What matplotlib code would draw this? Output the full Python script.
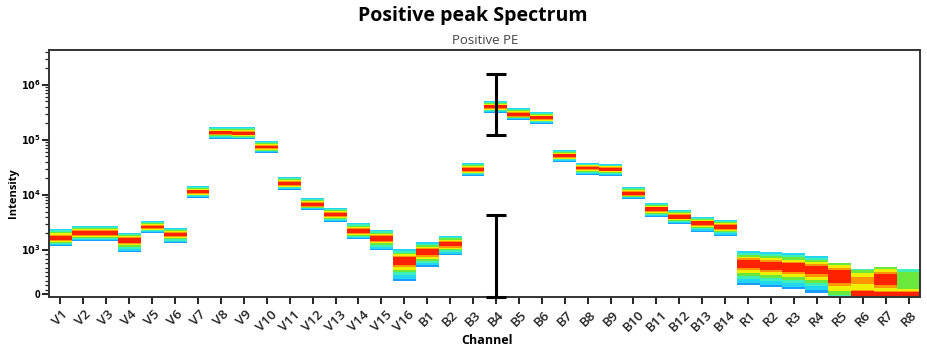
import numpy as np
import matplotlib
matplotlib.use("Agg")
import matplotlib.pyplot as plt
from matplotlib.colors import ListedColormap, BoundaryNorm
from matplotlib.transforms import Bbox

# ---------------- data ----------------
channels = ([f"V{i}" for i in range(1, 17)] + [f"B{i}" for i in range(1, 15)]
            + [f"R{i}" for i in range(1, 9)])

# median intensity of each channel
center = [1650, 2040, 2040, 1520, 2620, 1950, 11300, 135000, 128500, 74000,
          15900, 6600, 4500, 2220, 1650, 770,
          955, 1290, 28500, 398000, 285000, 251000, 51200, 30900, 29700,
          10400, 5560, 3980, 3100, 2620,
          705, 659, 614, 568, 432, 318, 340, 330]
# upper / lower extent of the population
hi = [2410, 2730, 2730, 2037, 3367, 2512, 14580, 172000, 172000, 95500,
      21200, 8820, 5800, 3100, 2310, 1040,
      1400, 1800, 38200, 512000, 382000, 324000, 65800, 38200, 36600,
      14000, 7160, 5340, 3980, 3510,
      977, 955, 932, 864, 705, 568, 614, 568]
lo = [1183, 1458, 1458, 955, 2037, 1340, 8820, 104000, 104000, 58000,
      12300, 5340, 3230, 1585, 1000, 295,
      614, 886, 22100, 310000, 231000, 196000, 39800, 23100, 22100,
      8460, 3980, 2970, 2120, 1800,
      205, 159, 114, 23, -70, -70, -70, -70]
# relative peak density of main population and of the population piled at zero
peak = [1.0] * 35 + [0.8, 1.0, 0.5]
zero_peak = [0.0] * 35 + [1.0, 0.95, 0.95]
# spread: number of sigmas at which the population edge lies
edge_z = [2.1] * 34 + [1.35, 1.35, 1.35, 1.0]

# error bars on B4
err_x = ["B4", "B4"]
err_center = [398000, 2000]
err_lo = [123000, -60]
err_hi = [1580000, 4330]

# ---------------- figure ----------------
plt.rcParams['font.family'] = ['Open Sans', 'DejaVu Sans']
W, H = 927, 350
fig = plt.figure(figsize=(W / 100, H / 100), dpi=100)
ax = fig.add_axes([49 / W, 1 - 297 / H, (920 - 49) / W, (297 - 50) / H])
ax.set_yscale('symlog', linthresh=1000, linscale=0.72)
ax.set_ylim(-68, 4.3e6)
n = len(channels)
ax.set_xlim(-0.5, n - 0.5)

tr = ax.yaxis.get_transform()
t0, t1 = tr.transform([-68.0, 4.3e6])
t_edges = np.linspace(t0, t1, 1200)
t_mid = 0.5 * (t_edges[:-1] + t_edges[1:])
y_edges = tr.inverted().transform(t_edges)
y_mid = tr.inverted().transform(t_mid)
x_edges = np.arange(n + 1) - 0.5

C = np.full((len(t_mid), n), np.nan)
tz = tr.transform([0.0])[0]
unit = tr.transform([1e4])[0] - tr.transform([1e3])[0]  # one decade
for i in range(n):
    tc, th, tl = tr.transform([center[i], hi[i], lo[i]])
    ez = edge_z[i]
    s_up = (th - tc) / (ez * 0.95)
    s_dn = (tc - tl) / (ez * 1.1)
    z = np.where(t_mid >= tc, (t_mid - tc) / s_up, (tc - t_mid) / s_dn)
    d = peak[i] * np.exp(-0.5 * z ** 2)
    if zero_peak[i] > 0:
        d0 = zero_peak[i] * np.exp(-0.5 * ((t_mid - tz) / (0.09 * unit)) ** 2)
        d = np.maximum(d, d0)
    inside = (y_mid >= lo[i]) & (y_mid <= hi[i])
    C[inside, i] = d[inside]

cols = ['#1a9cff', '#22d6f2', '#3ef0b8', '#6ae83c', '#eef000', '#ff9600', '#ff2200']
cmap = ListedColormap(cols)
cmap.set_bad((1, 1, 1, 0))
norm = BoundaryNorm([0, 0.12, 0.25, 0.4, 0.58, 0.75, 0.88, 1.01], len(cols))
ax.pcolormesh(x_edges, y_edges, np.ma.masked_invalid(C), cmap=cmap, norm=norm,
              shading='flat', rasterized=True)

# error bars
ex = [channels.index(c) for c in err_x]
ec = np.array(err_center, float)
ax.errorbar(ex, ec, yerr=[ec - np.array(err_lo), np.array(err_hi) - ec],
            fmt='none', ecolor='black', elinewidth=2.2, capsize=7, capthick=2.2,
            clip_on=False, zorder=5)

# axes styling
for s in ax.spines.values():
    s.set_color('#333333')
    s.set_linewidth(1.4)
ax.set_xticks(np.arange(n))
ax.set_xticklabels(channels, rotation=45, ha='center', fontsize=9.5, fontweight='semibold',
                   color='#222222')
ax.tick_params(axis='x', direction='out', length=5, width=1.4, color='#222222', pad=3)
ax.set_yticks([0, 1e3, 1e4, 1e5, 1e6])
ax.set_yticklabels(['0', r'$\mathbf{10^3}$', r'$\mathbf{10^4}$', r'$\mathbf{10^5}$', r'$\mathbf{10^6}$'],
                   fontsize=7, fontweight='bold')
minor = list(np.arange(100, 1000, 100))
for dec in [1e3, 1e4, 1e5, 1e6]:
    minor += [k * dec for k in range(2, 10) if k * dec < 4.3e6]
ax.set_yticks(minor, minor=True)
ax.tick_params(axis='y', which='major', direction='out', length=5, width=1.4, color='#222222', pad=1)
ax.tick_params(axis='y', which='minor', direction='out', length=3, width=0.9, color='#222222')
ax.tick_params(axis='x', which='minor', bottom=False)

# texts
title = fig.text(473 / W, 1 - 6 / H, 'Positive peak Spectrum', ha='center', va='top',
                 fontsize=14, fontweight='bold', color='black')
title.set_clip_box(Bbox.from_extents(0, H - 25, W, H))
title.set_clip_on(True)
fig.text(485 / W, 1 - 41 / H, 'Positive PE', ha='center', va='center', fontsize=9.5, color='#444444')
fig.text(13 / W, 1 - 193 / H, 'Intensity', ha='center', va='center', rotation=90,
         fontsize=8, fontweight='bold')
fig.text(487 / W, 1 - 334 / H, 'Channel', ha='center', va='top', fontsize=9, fontweight='bold')

fig.savefig('out.png', dpi=100)
